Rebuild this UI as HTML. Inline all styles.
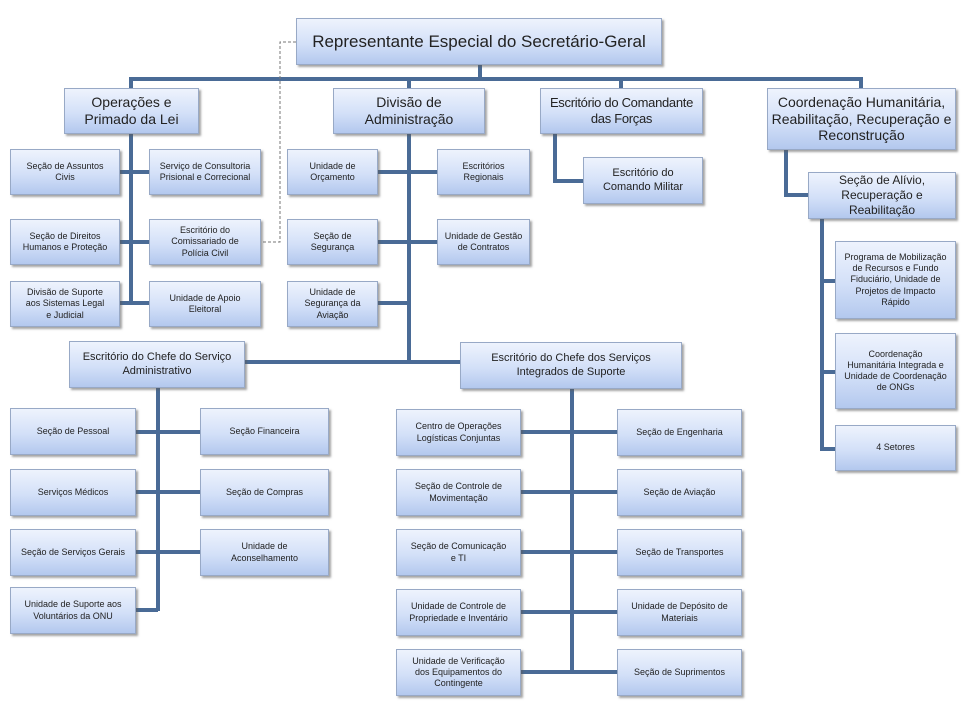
<!DOCTYPE html>
<html><head><meta charset="utf-8"><style>
body{margin:0;width:970px;height:707px;background:#fff;position:relative;overflow:hidden;font-family:"Liberation Sans",sans-serif;}
.b{position:absolute;box-sizing:border-box;border:1px solid #98a9c6;background:linear-gradient(#eef3fd,#d3e0f8 55%,#b3c8ee);box-shadow:2px 2px 2px rgba(90,90,90,.55);display:flex;align-items:center;justify-content:center;text-align:center;color:#222;font-size:9px;line-height:1.25;padding:0 2px;}
.l1{font-size:14px;line-height:1.2;}
.top{font-size:17px;}
svg{position:absolute;left:0;top:0;}
</style></head><body>
<svg width="970" height="707">
<g stroke="#4a6b96" stroke-width="4" fill="none">
<line x1="480" y1="64" x2="480" y2="79"/>
<line x1="129" y1="79" x2="863" y2="79"/>
<line x1="131" y1="79" x2="131" y2="90"/><line x1="409" y1="79" x2="409" y2="90"/>
<line x1="621" y1="79" x2="621" y2="90"/><line x1="861" y1="79" x2="861" y2="90"/>
<line x1="131" y1="133" x2="131" y2="305"/>
<line x1="119" y1="172" x2="149" y2="172"/><line x1="119" y1="242" x2="149" y2="242"/><line x1="119" y1="303" x2="149" y2="303"/>
<line x1="409" y1="133" x2="409" y2="364"/>
<line x1="377" y1="172" x2="437" y2="172"/><line x1="377" y1="242" x2="437" y2="242"/><line x1="377" y1="303" x2="409" y2="303"/>
<line x1="244" y1="362" x2="460" y2="362"/>
<polyline points="555,133 555,181 583,181"/>
<polyline points="786,149 786,195 808,195"/>
<polyline points="822,218 822,449 835,449"/>
<line x1="822" y1="281" x2="835" y2="281"/><line x1="822" y1="372" x2="835" y2="372"/>
<line x1="158" y1="387" x2="158" y2="611"/>
<line x1="135" y1="432" x2="200" y2="432"/><line x1="135" y1="492" x2="200" y2="492"/><line x1="135" y1="552" x2="200" y2="552"/><line x1="135" y1="610" x2="158" y2="610"/>
<line x1="572" y1="388" x2="572" y2="672"/>
<line x1="520" y1="432" x2="617" y2="432"/><line x1="520" y1="492" x2="617" y2="492"/><line x1="520" y1="552" x2="617" y2="552"/><line x1="520" y1="612" x2="617" y2="612"/><line x1="520" y1="672" x2="617" y2="672"/>
</g>
<polyline points="296,42 280,42 280,242 260,242" stroke="#777" stroke-width="1" stroke-dasharray="3,2" fill="none"/>
</svg>
<div class="b top" style="left:296px;top:18px;width:366px;height:47px">Representante Especial do Secretário-Geral</div>
<div class="b l1" style="left:64px;top:88px;width:135px;height:46px">Operações e<br>Primado da Lei</div>
<div class="b l1" style="left:333px;top:88px;width:152px;height:46px">Divisão de<br>Administração</div>
<div class="b l1" style="left:540px;top:88px;width:163px;height:46px;font-size:13px;letter-spacing:-0.3px;white-space:nowrap">Escritório do Comandante<br>das Forças</div>
<div class="b l1" style="left:767px;top:88px;width:189px;height:62px">Coordenação Humanitária,<br>Reabilitação, Recuperação e<br>Reconstrução</div>
<div class="b" style="left:10px;top:149px;width:110px;height:46px">Seção de Assuntos<br>Civis</div>
<div class="b" style="left:149px;top:149px;width:112px;height:46px">Serviço de Consultoria<br>Prisional e Correcional</div>
<div class="b" style="left:10px;top:219px;width:110px;height:46px">Seção de Direitos<br>Humanos e Proteção</div>
<div class="b" style="left:149px;top:219px;width:112px;height:46px">Escritório do<br>Comissariado de<br>Polícia Civil</div>
<div class="b" style="left:10px;top:281px;width:110px;height:46px">Divisão de Suporte<br>aos Sistemas Legal<br>e Judicial</div>
<div class="b" style="left:149px;top:281px;width:112px;height:46px">Unidade de Apoio<br>Eleitoral</div>
<div class="b" style="left:287px;top:149px;width:91px;height:46px">Unidade de<br>Orçamento</div>
<div class="b" style="left:437px;top:149px;width:93px;height:46px">Escritórios<br>Regionais</div>
<div class="b" style="left:287px;top:219px;width:91px;height:46px">Seção de<br>Segurança</div>
<div class="b" style="left:437px;top:219px;width:93px;height:46px">Unidade de Gestão<br>de Contratos</div>
<div class="b" style="left:287px;top:281px;width:91px;height:46px">Unidade de<br>Segurança da<br>Aviação</div>
<div class="b" style="left:583px;top:157px;width:120px;height:47px;font-size:11px">Escritório do<br>Comando Militar</div>
<div class="b" style="left:808px;top:172px;width:148px;height:47px;font-size:12px">Seção de Alívio,<br>Recuperação e<br>Reabilitação</div>
<div class="b" style="left:835px;top:241px;width:121px;height:78px">Programa de Mobilização<br>de Recursos e Fundo<br>Fiduciário, Unidade de<br>Projetos de Impacto<br>Rápido</div>
<div class="b" style="left:835px;top:333px;width:121px;height:76px">Coordenação<br>Humanitária Integrada e<br>Unidade de Coordenação<br>de ONGs</div>
<div class="b" style="left:835px;top:425px;width:121px;height:46px">4 Setores</div>
<div class="b" style="left:69px;top:341px;width:176px;height:47px;font-size:11px">Escritório do Chefe do Serviço<br>Administrativo</div>
<div class="b" style="left:460px;top:342px;width:222px;height:47px;font-size:11px">Escritório do Chefe dos Serviços<br>Integrados de Suporte</div>
<div class="b" style="left:10px;top:408px;width:126px;height:47px">Seção de Pessoal</div>
<div class="b" style="left:200px;top:408px;width:129px;height:47px">Seção Financeira</div>
<div class="b" style="left:10px;top:469px;width:126px;height:47px">Serviços Médicos</div>
<div class="b" style="left:200px;top:469px;width:129px;height:47px">Seção de Compras</div>
<div class="b" style="left:10px;top:529px;width:126px;height:47px">Seção de Serviços Gerais</div>
<div class="b" style="left:200px;top:529px;width:129px;height:47px">Unidade de<br>Aconselhamento</div>
<div class="b" style="left:10px;top:587px;width:126px;height:47px">Unidade de Suporte aos<br>Voluntários da ONU</div>
<div class="b" style="left:396px;top:409px;width:125px;height:47px">Centro de Operações<br>Logísticas Conjuntas</div>
<div class="b" style="left:617px;top:409px;width:125px;height:47px">Seção de Engenharia</div>
<div class="b" style="left:396px;top:469px;width:125px;height:47px">Seção de Controle de<br>Movimentação</div>
<div class="b" style="left:617px;top:469px;width:125px;height:47px">Seção de Aviação</div>
<div class="b" style="left:396px;top:529px;width:125px;height:47px">Seção de Comunicação<br>e TI</div>
<div class="b" style="left:617px;top:529px;width:125px;height:47px">Seção de Transportes</div>
<div class="b" style="left:396px;top:589px;width:125px;height:47px">Unidade de Controle de<br>Propriedade e Inventário</div>
<div class="b" style="left:617px;top:589px;width:125px;height:47px">Unidade de Depósito de<br>Materiais</div>
<div class="b" style="left:396px;top:649px;width:125px;height:47px">Unidade de Verificação<br>dos Equipamentos do<br>Contingente</div>
<div class="b" style="left:617px;top:649px;width:125px;height:47px">Seção de Suprimentos</div>
</body></html>
